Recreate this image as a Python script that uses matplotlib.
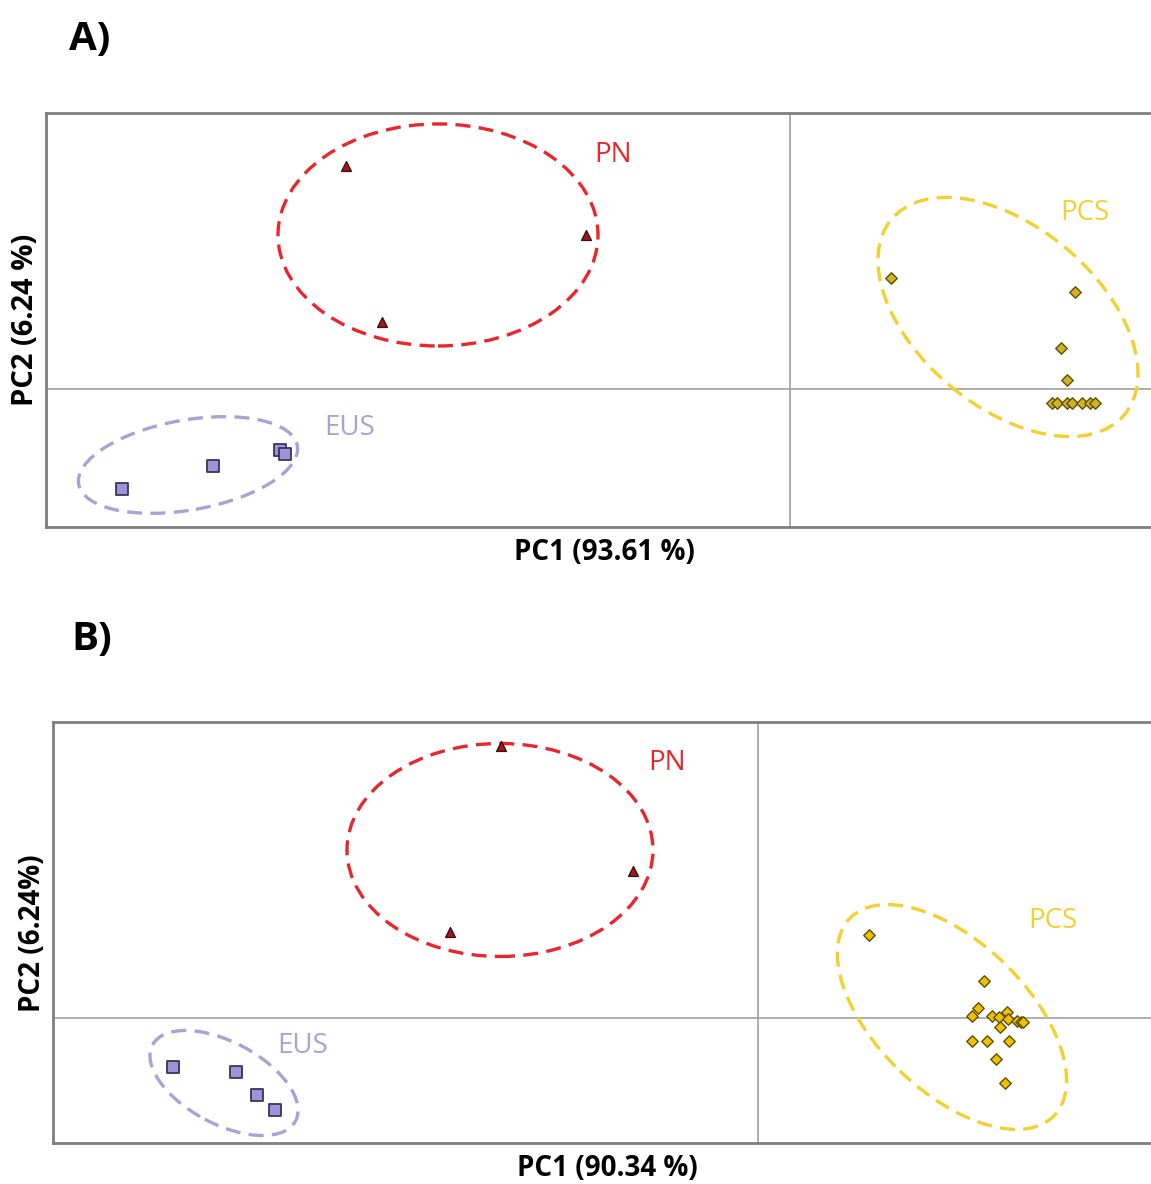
import matplotlib.pyplot as plt
from matplotlib.patches import Ellipse

plt.rcParams['font.family'] = ['Open Sans', 'DejaVu Sans']

# ---- panel A scores ----
A_pn_x = [-4.44, -2.04, -4.08]
A_pn_y = [2.23, 1.54, 0.67]
A_pcs_x = [1.01, 2.85, 2.71, 2.77, 2.62, 2.67, 2.77, 2.82, 2.92, 3.00, 3.05]
A_pcs_y = [1.11, 0.97, 0.41, 0.09, -0.14, -0.14, -0.14, -0.14, -0.14, -0.14, -0.14]
A_eus_x = [-6.68, -5.77, -5.10, -5.05]
A_eus_y = [-1.00, -0.77, -0.61, -0.65]

# ---- panel B scores ----
B_pn_x = [-2.57, -1.25, -3.08]
B_pn_y = [2.72, 1.47, 0.86]
B_pcs_x = [1.11, 2.26, 2.20, 2.14, 2.34, 2.41, 2.49, 2.50, 2.42, 2.59, 2.63, 2.65,
           2.14, 2.29, 2.51, 2.38, 2.47]
B_pcs_y = [0.83, 0.37, 0.10, 0.02, 0.02, 0.01, 0.06, -0.01, -0.09, -0.03, -0.04, -0.04,
           -0.23, -0.23, -0.23, -0.41, -0.65]
B_eus_x = [-5.85, -5.22, -5.01, -4.83]
B_eus_y = [-0.49, -0.54, -0.77, -0.92]

# confidence ellipses: (cx, cy, width, height, angle)
A_ell = {"PN": (-3.52, 1.54, 3.20, 2.22, 0), "PCS": (2.18, 0.72, 3.04, 1.80, -40),
         "EUS": (-6.02, -0.76, 2.22, 0.90, 10)}
B_ell = {"PN": (-2.58, 1.68, 3.06, 2.13, 0), "PCS": (1.94, 0.01, 2.84, 1.50, -44),
         "EUS": (-5.34, -0.65, 1.62, 0.82, -28)}

A_lab = {"PN": (-1.77, 2.34), "PCS": (2.95, 1.76), "EUS": (-4.40, -0.39)}
B_lab = {"PN": (-0.91, 2.55), "PCS": (2.95, 0.97), "EUS": (-4.55, -0.28)}

red = "#E8262B"
yel = "#F5CF2E"
pur = "#A8A2D6"


def panel(ax, pn, pcs, eus, ell, lab, pcs_fill):
    for s in ax.spines.values():
        s.set_color("#7f7f7f")
        s.set_linewidth(2)
    ax.axhline(0, color="#a0a0a0", lw=1.2, zorder=1)
    ax.axvline(0, color="#a0a0a0", lw=1.2, zorder=1)
    cols = {"PN": red, "PCS": yel, "EUS": pur}
    for k, (cx, cy, w, h, a) in ell.items():
        ax.add_patch(Ellipse((cx, cy), w, h, angle=a, fill=False, ls=(0, (4.5, 2.5)),
                             lw=2.4, ec=cols[k], zorder=2))
    for k, (tx, ty) in lab.items():
        ax.text(tx, ty, k, color=cols[k], fontsize=20, ha="center", va="center")
    ax.scatter(pn[0], pn[1], marker="^", s=50, c="#9B1B22", edgecolors="#4a0c10",
               linewidths=1, zorder=3)
    ax.scatter(pcs[0], pcs[1], marker="D", s=34, c=pcs_fill, edgecolors="#5e5000",
               linewidths=1, zorder=3)
    ax.scatter(eus[0], eus[1], marker="s", s=70, c="#9E93D6", edgecolors="#3a3360",
               linewidths=1.3, zorder=3)
    ax.set_xticks([])
    ax.set_yticks([])


fig = plt.figure(figsize=(11.51, 11.84), dpi=100)

axA = fig.add_axes([0.03997, 0.5549, 0.9661, 0.3497])
panel(axA, (A_pn_x, A_pn_y), (A_pcs_x, A_pcs_y), (A_eus_x, A_eus_y), A_ell, A_lab, "#CDB22A")
axA.set_xlim(-7.44, 3.68)
axA.set_ylim(-1.38, 2.76)

axB = fig.add_axes([0.04605, 0.03463, 0.960, 0.3556])
panel(axB, (B_pn_x, B_pn_y), (B_pcs_x, B_pcs_y), (B_eus_x, B_eus_y), B_ell, B_lab, "#F0C000")
axB.set_xlim(-7.05, 4.00)
axB.set_ylim(-1.25, 2.96)

fig.text(604 / 1151, 1 - 553 / 1184, "PC1 (93.61 %)", fontsize=20, fontweight="bold",
         ha="center", va="center")
fig.text(26 / 1151, 1 - 320 / 1184, "PC2 (6.24 %)", fontsize=21, fontweight="bold",
         ha="center", va="center", rotation=90)
fig.text(607 / 1151, 1 - 1168 / 1184, "PC1 (90.34 %)", fontsize=20, fontweight="bold",
         ha="center", va="center")
fig.text(33 / 1151, 1 - 933 / 1184, "PC2 (6.24%)", fontsize=20, fontweight="bold",
         ha="center", va="center", rotation=90)
fig.text(90 / 1151, 1 - 40 / 1184, "A)", fontsize=29, fontweight="bold",
         ha="center", va="center")
fig.text(92 / 1151, 1 - 640 / 1184, "B)", fontsize=29, fontweight="bold",
         ha="center", va="center")

fig.savefig("out.png", dpi=100)
